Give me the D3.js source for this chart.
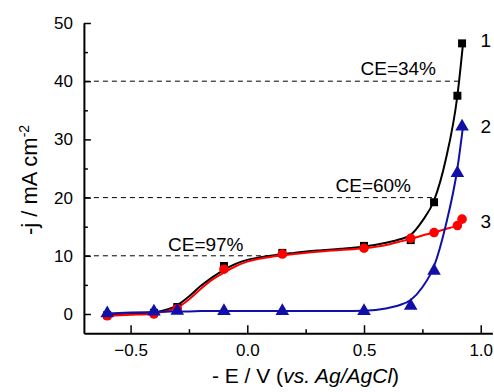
<!DOCTYPE html>
<html>
<head>
<meta charset="utf-8">
<script src="https://cdn.jsdelivr.net/npm/d3@7"></script>
<style>
  html, body { margin: 0; padding: 0; background: #fff; }
  svg { display: block; font-family: "Liberation Sans", Arial, sans-serif; }
</style>
</head>
<body>
<svg id="chart" width="494" height="392"></svg>
<script>
// Potential (-E / V vs. Ag/AgCl) at which current density was measured
const potentials = [-0.6, -0.4, -0.3, -0.1, 0.15, 0.5, 0.7, 0.8, 0.9, 0.92];

// Measured current density (-j, mA cm^-2) for the three electrodes
const curve1 = [-0.2, 0.2, 1.2, 8.25, 10.5, 11.7, 12.7, 19.2, 37.5, 46.5];
const curve2 = [0.1, 0.4, 0.55, 0.5, 0.5, 0.5, 1.4, 7.4, 24.2, 32.2];
const curve3 = [-0.3, 0.0, 0.9, 7.7, 10.3, 11.3, 13.0, 14.0, 15.2, 16.3];

// Smoothed fit of each curve on a finer potential grid
const fitPotentials = [-0.6, -0.5, -0.4, -0.35, -0.3, -0.25, -0.2, -0.15, -0.1, -0.05,
                       0.0, 0.05, 0.1, 0.15, 0.2, 0.3, 0.4, 0.5, 0.6, 0.65,
                       0.7, 0.75, 0.8, 0.85, 0.9, 0.925];
const fit1 = [-0.2, 0.0, 0.3, 0.7, 1.5, 3.0, 4.8, 6.3, 7.6, 8.6,
              9.3, 9.7, 10.0, 10.3, 10.5, 10.9, 11.2, 11.6, 12.3, 12.8,
              13.6, 16.0, 19.5, 26.5, 37.5, 46.8];
const fit2 = [0.1, 0.25, 0.35, 0.4, 0.45, 0.45, 0.5, 0.5, 0.5, 0.5,
              0.5, 0.5, 0.5, 0.5, 0.5, 0.5, 0.5, 0.55, 1.0, 1.5,
              2.4, 4.6, 8.2, 15.2, 25.0, 32.5];
const fit3 = [-0.3, -0.15, 0.1, 0.45, 1.1, 2.5, 4.3, 5.9, 7.1, 8.2,
              9.0, 9.5, 9.8, 10.1, 10.3, 10.7, 11.0, 11.3, 11.9, 12.4,
              12.9, 13.5, 14.0, 14.6, 15.3, 16.4];

const curveNames = ["1", "2", "3"];

// Current-efficiency reference levels
const ceLevels = [40, 20, 10];
const ceLabels = ["CE=34%", "CE=60%", "CE=97%"];

const xMajorTicks = [-0.5, 0.0, 0.5, 1.0];
const xMinorTicks = [-0.25, 0.25, 0.75];
const yMajorTicks = [0, 10, 20, 30, 40, 50];
const yMinorTicks = [5, 15, 25, 35, 45];

const svg = d3.select("#chart");

const x = d3.scaleLinear().domain([-0.7, 1.05]).range([83.9, 492.4]);
const y = d3.scaleLinear().domain([-3.3, 50]).range([333.2, 23]);

const fmtX = d3.format(".1f");

// Axes: ticks point inward, minor ticks shorter and unlabeled
const gx = svg.append("g").attr("transform", `translate(0,${y(-3.3)})`);
gx.call(d3.axisBottom(x).tickValues(xMajorTicks).tickSize(-8).tickSizeOuter(0)
  .tickPadding(10.5).tickFormat(fmtX));
const gxm = svg.append("g").attr("transform", `translate(0,${y(-3.3)})`);
gxm.call(d3.axisBottom(x).tickValues(xMinorTicks).tickSize(-4).tickSizeOuter(0).tickFormat(""));
gxm.select(".domain").remove();

const gy = svg.append("g").attr("transform", `translate(${x(-0.7)},0)`);
gy.call(d3.axisLeft(y).tickValues(yMajorTicks).tickSize(-7).tickSizeOuter(0)
  .tickPadding(11).tickFormat(d3.format("d")));
const gym = svg.append("g").attr("transform", `translate(${x(-0.7)},0)`);
gym.call(d3.axisLeft(y).tickValues(yMinorTicks).tickSize(-4).tickSizeOuter(0).tickFormat(""));
gym.select(".domain").remove();

svg.selectAll(".domain").attr("stroke", "#000").attr("stroke-width", 2);
svg.selectAll(".tick line").attr("stroke", "#000").attr("stroke-width", 1.5);
svg.selectAll(".tick text").attr("fill", "#000").style("font-size", "17px")
  .style("font-family", "'Liberation Sans', Arial, sans-serif");

// Axis titles
svg.append("text")
  .attr("x", 305.5).attr("y", 383)
  .attr("text-anchor", "middle")
  .style("font-size", "21px")
  .html('- E / V (<tspan font-style="italic">vs. Ag/AgCl</tspan>)');

svg.append("text")
  .attr("transform", "translate(37,180) rotate(-90)")
  .attr("text-anchor", "middle")
  .style("font-size", "22px")
  .html('-j / mA cm<tspan dy="-8" font-size="14px">-2</tspan>');

const series = [
  { values: curve1, fit: fit1, color: "#000000", shape: "square" },
  { values: curve3, fit: fit3, color: "#ff0000", shape: "circle" },
  { values: curve2, fit: fit2, color: "#1010a8", shape: "triangle" }
];

const line = d3.line()
  .x(d => x(d[0]))
  .y(d => y(d[1]))
  .curve(d3.curveMonotoneX);

const plot = svg.append("g");

// Dashed CE levels run from the axis to where curve 1 reaches them
const dashG = plot.append("g");

const paths = series.map(s => {
  const pts = fitPotentials.map((p, i) => [p, s.fit[i]]);
  return plot.append("path")
    .datum(pts)
    .attr("d", line)
    .attr("fill", "none")
    .attr("stroke", s.color)
    .attr("stroke-width", 2);
});

const symbolFor = {
  square: d3.symbol().type(d3.symbolSquare).size(64),
  circle: d3.symbol().type(d3.symbolCircle).size(72),
  triangle: d3.symbol().type(d3.symbolTriangle).size(80)
};

series.forEach(s => {
  plot.append("g").selectAll("path")
    .data(potentials.map((p, i) => [p, s.values[i]]))
    .join("path")
    .attr("transform", d => `translate(${x(d[0])},${y(d[1])})`)
    .attr("d", symbolFor[s.shape]())
    .attr("fill", s.color);
});

// Find where the fitted path of curve 1 crosses a given level
const blackNode = paths[0].node();
const totalLen = blackNode.getTotalLength();
function crossingX(level) {
  const py = y(level);
  let prev = blackNode.getPointAtLength(0);
  for (let l = 0.5; l <= totalLen; l += 0.5) {
    const p = blackNode.getPointAtLength(l);
    if (prev.y >= py && p.y <= py) {
      const t = (prev.y - py) / ((prev.y - p.y) || 1);
      return prev.x + t * (p.x - prev.x);
    }
    prev = p;
  }
  return x(0.9);
}

ceLevels.forEach(level => {
  dashG.append("line")
    .attr("x1", x(-0.7) + 1).attr("x2", crossingX(level))
    .attr("y1", y(level)).attr("y2", y(level))
    .attr("stroke", "#000").attr("stroke-width", 1)
    .attr("stroke-dasharray", "5,4");
});

// CE annotations
const ceTextPos = [[360.5, 75], [335.5, 191.5], [168, 250.5]];
ceLabels.forEach((t, i) => {
  svg.append("text")
    .attr("x", ceTextPos[i][0]).attr("y", ceTextPos[i][1])
    .style("font-size", "19px")
    .text(t);
});

// Curve numbers at the right edge
const nameY = [46.5, 133, 228];
curveNames.forEach((t, i) => {
  svg.append("text")
    .attr("x", 480.5).attr("y", nameY[i])
    .style("font-size", "19px")
    .text(t);
});
</script>
</body>
</html>
